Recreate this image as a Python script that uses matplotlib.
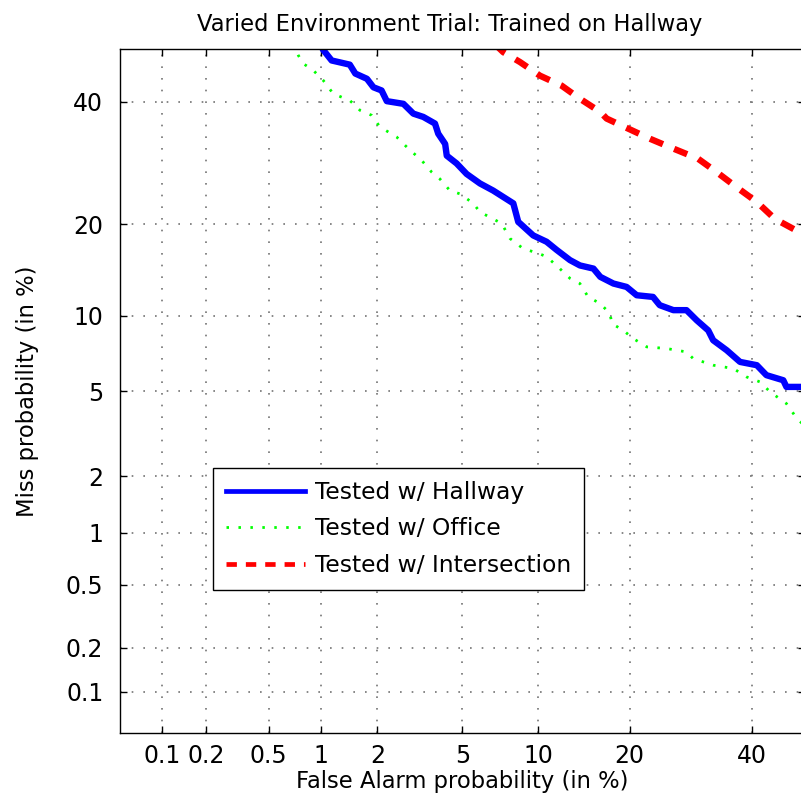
import numpy as np
import matplotlib
matplotlib.use("Agg")
import matplotlib.pyplot as plt

plt.rcParams['font.family'] = ['DejaVu Sans']

# DET curve values, in percent (false alarm, miss)
fa_hallway = [1.0, 1.03, 1.15, 1.44, 1.54, 1.77, 1.91, 2.10, 2.23, 2.69, 3.00, 3.34,
              3.78, 3.91, 4.20, 4.27, 4.72, 5.21, 5.93, 6.72, 8.07, 8.43, 9.6, 10.74,
              11.66, 12.97, 14.0, 15.5, 16.3, 17.9, 19.6, 20.97, 23.3, 24.3, 26.4,
              28.5, 30.2, 32.15, 33.0, 35.4, 37.8, 40.9, 42.7, 45.9, 46.5, 50.0]
miss_hallway = [51.0, 49.9, 47.8, 47.0, 45.3, 44.3, 42.7, 42.1, 40.1, 39.6, 37.8, 37.2,
                36.0, 34.2, 32.4, 30.4, 29.1, 27.4, 25.9, 24.8, 22.9, 20.3, 18.5, 17.7,
                16.7, 15.5, 14.9, 14.55, 13.66, 12.97, 12.63, 11.82, 11.66, 10.9, 10.46,
                10.46, 9.6, 8.8, 8.07, 7.37, 6.62, 6.42, 5.84, 5.56, 5.21, 5.21]

fa_office = [0.70, 0.747, 0.798, 0.91, 1.034, 1.172, 1.443, 1.63, 1.87, 2.06, 2.496,
             2.84, 3.285, 3.65, 3.98, 4.41, 4.88, 5.56, 5.93, 6.72, 7.27, 7.84, 8.8,
             10.0, 10.74, 11.82, 12.97, 14.0, 14.9, 16.3, 17.47, 17.7, 19.17, 20.5,
             22.4, 25.35, 28.5, 29.6, 33.0, 36.6, 39.0, 41.5, 43.4, 46.5, 48.5, 50.0]
miss_office = [51.0, 48.8, 47.2, 45.9, 44.0, 41.5, 40.2, 38.4, 37.5, 35.4, 33.6,
               31.6, 29.6, 27.7, 26.6, 24.8, 24.3, 22.9, 21.65, 20.7, 20.05, 18.1, 16.86,
               16.3, 15.9, 14.7, 13.5, 12.97, 11.66, 11.04, 10.16, 9.34, 8.8, 8.19,
               7.6, 7.49, 7.26, 6.83, 6.42, 6.22, 5.74, 5.47, 4.96, 4.41, 3.78, 3.5]

fa_inter = [6.8, 7.37, 8.56, 10.16, 12.14, 14.0, 16.3, 17.06, 19.8, 22.86, 26.4,
            30.4, 33.6, 37.2, 40.9, 44.3, 48.1, 50.0]
miss_inter = [51.0, 49.4, 47.5, 44.9, 43.0, 40.55, 38.1, 36.9, 35.1, 33.3, 31.6,
              29.9, 27.7, 25.3, 23.1, 20.7, 19.25, 18.6]

tick_vals = [0.1, 0.2, 0.5, 1, 2, 5, 10, 20, 40]
tick_labels = ['0.1', '0.2', '0.5', '1', '2', '5', '10', '20', '40']


def norm_ppf(p):
    # Acklam's rational approximation of the inverse normal cdf
    a = [-3.969683028665376e+01, 2.209460984245205e+02, -2.759285104469687e+02,
         1.383577518672690e+02, -3.066479806614716e+01, 2.506628277459239e+00]
    b = [-5.447609879822406e+01, 1.615858368580409e+02, -1.556989798598866e+02,
         6.680131188771972e+01, -1.328068155288572e+01]
    c = [-7.784894002430293e-03, -3.223964580411365e-01, -2.400758277161838e+00,
         -2.549671079771289e+00, 4.374664141464968e+00, 2.938163982698783e+00]
    d = [7.784695709041462e-03, 3.224671290700398e-01, 2.445134137142996e+00,
         3.754408661907416e+00]
    p = np.clip(np.asarray(p, dtype=float), 1e-12, 1 - 1e-12)
    plow = 0.02425
    q = np.sqrt(-2 * np.log(np.minimum(p, 1 - p)))
    tail = (((((c[0]*q + c[1])*q + c[2])*q + c[3])*q + c[4])*q + c[5]) / \
           ((((d[0]*q + d[1])*q + d[2])*q + d[3])*q + 1)
    tail = np.where(p < 0.5, tail, -tail)
    r = (p - 0.5) ** 2
    qq = p - 0.5
    mid = (((((a[0]*r + a[1])*r + a[2])*r + a[3])*r + a[4])*r + a[5]) * qq / \
          (((((b[0]*r + b[1])*r + b[2])*r + b[3])*r + b[4])*r + 1)
    return np.where((p < plow) | (p > 1 - plow), tail, mid)


_erf = np.vectorize(__import__('math').erf)


def forward(pct):
    return norm_ppf(np.asarray(pct, dtype=float) / 100.0)


def inverse(z):
    z = np.asarray(z, dtype=float)
    return 100.0 * 0.5 * (1 + _erf(z / np.sqrt(2)))


fig = plt.figure(figsize=(8.01, 8.08), dpi=100)
ax = fig.add_axes([120 / 801, 74.7 / 808, 684.7 / 801, 684.3 / 808])
ax.set_xscale('function', functions=(forward, inverse))
ax.set_yscale('function', functions=(forward, inverse))

ax.plot(fa_hallway, miss_hallway, color=(0, 0, 1), lw=4.6,
        solid_joinstyle='round', label='Tested w/ Hallway')
ax.plot(fa_office, miss_office, color=(0, 1, 0), lw=2.0,
        dashes=(0.9, 3.4), label='Tested w/ Office')
ax.plot(fa_inter, miss_inter, color=(1, 0, 0), lw=4.6,
        dashes=(2.2, 1.9), label='Tested w/ Intersection')

ax.set_xlim(0.05, 50)
ax.set_ylim(0.05, 50)
ax.set_xticks(tick_vals)
ax.set_xticklabels(tick_labels)
ax.set_yticks(tick_vals)
ax.set_yticklabels(tick_labels)
ax.minorticks_off()
ax.tick_params(axis='both', which='both', direction='in', length=5, width=1,
               top=True, right=True, labelsize=17)
ax.tick_params(axis='x', pad=8)
ax.tick_params(axis='y', pad=12)
for s in ax.spines.values():
    s.set_linewidth(1.0)

ax.grid(True, color='0.45', lw=1.2, dashes=(1, 6))

ax.set_title('Varied Environment Trial: Trained on Hallway', fontsize=16.3,
             pad=13, x=0.482)
ax.set_xlabel('False Alarm probability (in %)', fontsize=16.3, labelpad=1)
ax.set_ylabel('Miss probability (in %)', fontsize=16.3, labelpad=19)

leg = ax.legend(loc='upper left', bbox_to_anchor=(0.1354, 0.3877),
                borderaxespad=0, fontsize=16.8, frameon=True, fancybox=False,
                framealpha=1, edgecolor='black', handlelength=3.4,
                handletextpad=0.45, labelspacing=0.58, borderpad=0.55)
leg.get_frame().set_linewidth(1.0)
for h in leg.get_lines():
    if h.get_linewidth() > 3:
        h.set_linewidth(3.4)

fig.savefig('out.png', dpi=100)
